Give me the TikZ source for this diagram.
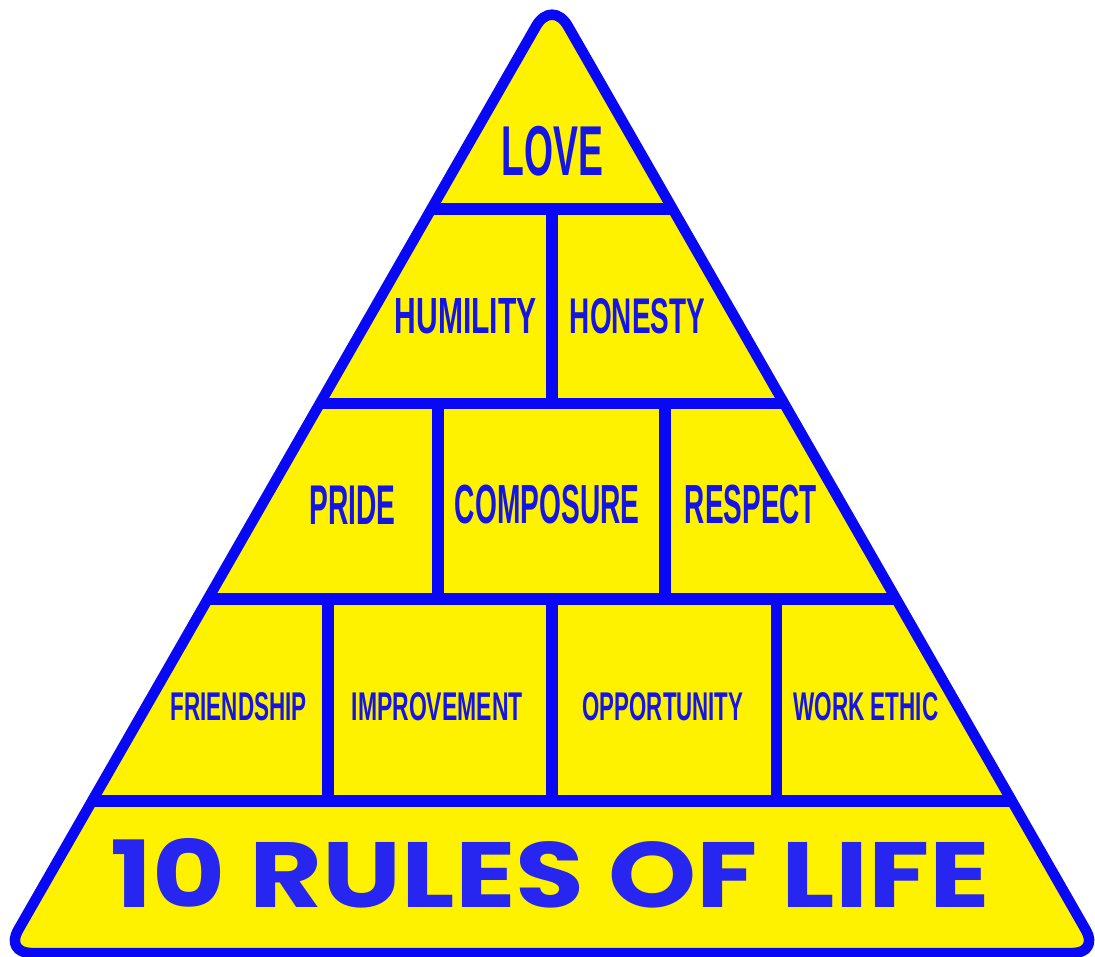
\documentclass[tikz,border=0pt]{standalone}
\usepackage{fontspec}
\setmainfont{Liberation Sans}
\newfontfamily\poppfont{Poppins}
\usetikzlibrary{calc}
\definecolor{pyellow}{RGB}{255,242,0}
\definecolor{pblue}{RGB}{8,8,245}
\definecolor{tblue}{RGB}{20,20,228}
\definecolor{bblue}{RGB}{38,38,240}
\newcommand{\fitlbl}[3]{\resizebox{#1pt}{#2pt}{#3}}
\begin{document}
\begin{tikzpicture}[x=1pt,y=-1pt,
  outline/.style={draw=pblue,line width=10.5pt,line join=round},
  divider/.style={draw=pblue,line width=11.5pt},
  lbl/.style={inner sep=0pt,outer sep=0pt,text=tblue,font=\bfseries},
  bigl/.style={inner sep=0pt,outer sep=0pt,text=bblue,font=\poppfont\bfseries},
]
\useasboundingbox (0,0) rectangle (1095,957);
\coordinate (A) at (552,-1.6);
\coordinate (L) at (5,953);
\coordinate (R) at (1099,953);
\coordinate (M) at (552,953);
% yellow body
\fill[pyellow] (M) [rounded corners=26pt] -- (R) [rounded corners=32pt] -- (A) [rounded corners=26pt] -- (L) -- cycle;
% horizontal dividers
\coordinate (h1l) at ($(A)!0.22062!(L)$);
\coordinate (h1r) at ($(A)!0.22062!(R)$);
\coordinate (h2l) at ($(A)!0.42437!(L)$);
\coordinate (h2r) at ($(A)!0.42437!(R)$);
\coordinate (h3l) at ($(A)!0.62916!(L)$);
\coordinate (h3r) at ($(A)!0.62916!(R)$);
\coordinate (h4l) at ($(A)!0.84077!(L)$);
\coordinate (h4r) at ($(A)!0.84077!(R)$);
\draw[divider] (h1l) -- (h1r);
\draw[divider] (h2l) -- (h2r);
\draw[divider] (h3l) -- (h3r);
\draw[divider] (h4l) -- (h4r);
% vertical dividers
\coordinate (v21a) at (552,209);   \coordinate (v21b) at (552,403.5);
\coordinate (v31a) at (438,403.5); \coordinate (v31b) at (438,599);
\coordinate (v32a) at (665,403.5); \coordinate (v32b) at (665,599);
\coordinate (v41a) at (328,599);   \coordinate (v41b) at (328,801);
\coordinate (v42a) at (552,599);   \coordinate (v42b) at (552,801);
\coordinate (v43a) at (776.7,599); \coordinate (v43b) at (776.7,801);
\draw[divider] (v21a) -- (v21b);
\draw[divider] (v31a) -- (v31b);
\draw[divider] (v32a) -- (v32b);
\draw[divider] (v41a) -- (v41b);
\draw[divider] (v42a) -- (v42b);
\draw[divider] (v43a) -- (v43b);
% outline
\draw[outline] (M) [rounded corners=26pt] -- (R) [rounded corners=32pt] -- (A) [rounded corners=26pt] -- (L) -- cycle;
% labels
\node[lbl] (love) at (552.5,151.3) {\fitlbl{101.6}{49.3}{LOVE}};
\node[lbl] (humility) at (465.8,315.8) {\fitlbl{141.7}{35}{HUMILITY}};
\node[lbl] (honesty) at (637.5,315.8) {\fitlbl{135}{35}{HONESTY}};
\node[lbl] (pride) at (352.7,504.8) {\fitlbl{86}{38.5}{PRIDE}};
\node[lbl] (composure) at (547.2,504.8) {\fitlbl{184.5}{38.5}{COMPOSURE}};
\node[lbl] (respect) at (751,504.8) {\fitlbl{132}{38.5}{RESPECT}};
\node[lbl] (friendship) at (238.7,706.7) {\fitlbl{136}{28}{FRIENDSHIP}};
\node[lbl] (improvement) at (437.2,706.7) {\fitlbl{171}{28}{IMPROVEMENT}};
\node[lbl] (opportunity) at (663,706.7) {\fitlbl{160.6}{28}{OPPORTUNITY}};
\node[lbl] (workethic) at (865.8,706.7) {\fitlbl{145}{28}{WORK ETHIC}};
\node[bigl] (title) at (550.3,872.8) {\fitlbl{879.3}{69}{10 RULES OF LIFE}};
\end{tikzpicture}
\end{document}
